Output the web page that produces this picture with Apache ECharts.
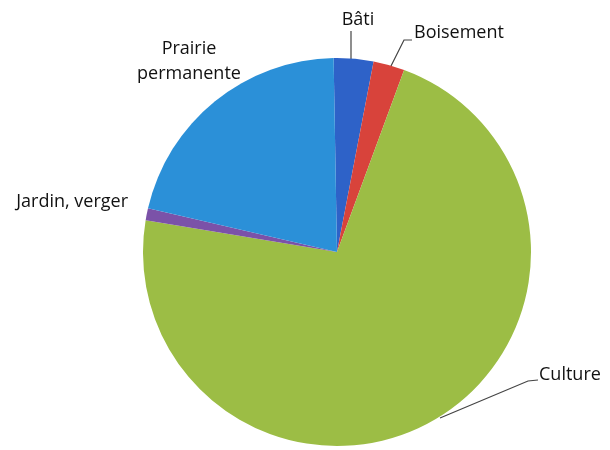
<!DOCTYPE html>
<html>
<head>
<meta charset="utf-8">
<script src="https://cdn.jsdelivr.net/npm/echarts@6/dist/echarts.min.js"></script>
<style>
  html, body { margin: 0; padding: 0; background: #fff; }
  #main { width: 610px; height: 450px; }
</style>
</head>
<body>
<div id="main"></div>
<script>
// occupation du sol (%)
var categories = ['Bâti', 'Boisement', 'Culture', 'Jardin, verger', 'Prairie\npermanente'];
var values = [3.3, 2.6, 72.0, 1.0, 21.1];
var colors = ['#2e62c8', '#d8433b', '#9cbd45', '#7b52a8', '#2b90d8'];

// label placement, by slice index
var labelPos = [
    { x: 358, y: 20, align: 'center', line: [[351, 62], [351, 31]] },
    { x: 414, y: 33, align: 'left', line: [[390, 68], [404, 40], [412, 40]] },
    { x: 539, y: 375, align: 'left', line: [[440, 418], [528, 381], [538, 380]] },
    { x: 128, y: 202, align: 'right', line: null },
    { x: 189, y: 61, align: 'center', line: null }
];

var data = [];
for (var i = 0; i < values.length; i++) {
    data.push({
        name: categories[i],
        value: values[i],
        itemStyle: { color: colors[i] },
        labelLine: { show: labelPos[i].line != null }
    });
}

var option = {
    animation: false,
    series: [{
        type: 'pie',
        center: [337, 252],
        radius: 194,
        startAngle: 91,
        clockwise: true,
        data: data,
        itemStyle: { borderWidth: 0 },
        label: {
            show: true,
            position: 'outside',
            formatter: '{b}',
            color: '#111',
            fontFamily: 'Open Sans',
            fontSize: 18,
            lineHeight: 25
        },
        labelLine: {
            show: true,
            length: 10,
            length2: 10,
            lineStyle: { color: '#444', width: 1.2 }
        },
        labelLayout: function (params) {
            var p = labelPos[params.dataIndex];
            var res = { x: p.x, y: p.y, align: p.align, verticalAlign: 'middle' };
            if (p.line) res.labelLinePoints = p.line;
            return res;
        }
    }]
};

var myChart = echarts.init(document.getElementById('main'));
myChart.setOption(option);
</script>
</body>
</html>
